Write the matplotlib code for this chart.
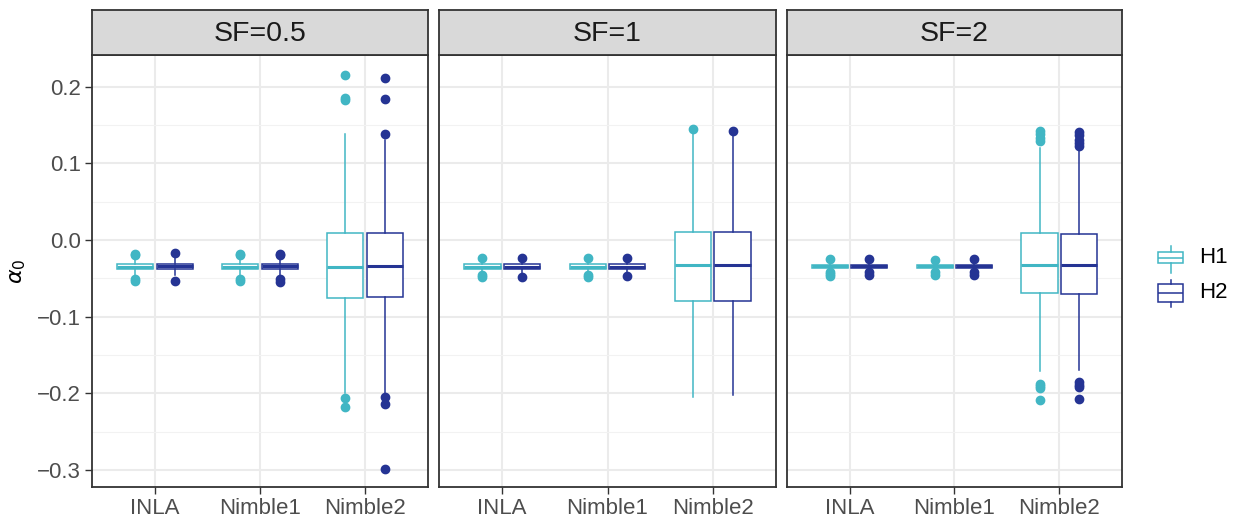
import matplotlib
matplotlib.use("Agg")
import matplotlib.pyplot as plt
from matplotlib.ticker import MultipleLocator

plt.rcParams["font.family"] = ["Liberation Sans", "DejaVu Sans"]
plt.rcParams["mathtext.fontset"] = "dejavusans"

# facets, methods, groups
facets = ["SF=0.5", "SF=1", "SF=2"]
methods = ["INLA", "Nimble1", "Nimble2"]
groups = ["H1", "H2"]
colors = {"H1": "#41B6C4", "H2": "#253494"}

# box stats per facet -> method -> group: (whislo, q1, med, q3, whishi)
stats_h1 = [
    [(-0.046, -0.038, -0.035, -0.031, -0.024), (-0.046, -0.038, -0.035, -0.031, -0.024), (-0.199, -0.076, -0.035, 0.0096, 0.138)],
    [(-0.043, -0.0375, -0.0345, -0.0315, -0.027), (-0.043, -0.0375, -0.0345, -0.0315, -0.027), (-0.204, -0.079, -0.033, 0.010, 0.143)],
    [(-0.039, -0.0365, -0.034, -0.0322, -0.029), (-0.039, -0.0365, -0.034, -0.0322, -0.029), (-0.171, -0.069, -0.033, 0.0087, 0.120)],
]
stats_h2 = [
    [(-0.046, -0.0375, -0.034, -0.0305, -0.023), (-0.046, -0.0375, -0.034, -0.0305, -0.024), (-0.199, -0.074, -0.034, 0.0096, 0.131)],
    [(-0.043, -0.0375, -0.0345, -0.0315, -0.027), (-0.043, -0.0375, -0.0345, -0.0315, -0.027), (-0.202, -0.079, -0.033, 0.010, 0.141)],
    [(-0.039, -0.0365, -0.034, -0.0322, -0.029), (-0.039, -0.0365, -0.034, -0.0322, -0.029), (-0.170, -0.070, -0.033, 0.008, 0.120)],
]
fliers_h1 = [
    [[-0.018, -0.020, -0.051, -0.053], [-0.018, -0.020, -0.051, -0.053], [0.216, 0.186, 0.183, -0.206, -0.217]],
    [[-0.0235, -0.046, -0.048], [-0.0235, -0.045, -0.048], [0.145]],
    [[-0.025, -0.041, -0.044, -0.047], [-0.026, -0.042, -0.045], [0.142, 0.138, 0.133, 0.129, -0.187, -0.190, -0.193, -0.208]],
]
fliers_h2 = [
    [[-0.0166, -0.053], [-0.018, -0.020, -0.051, -0.054], [0.212, 0.184, 0.139, -0.204, -0.214, -0.298]],
    [[-0.0235, -0.048], [-0.0235, -0.047], [0.143]],
    [[-0.025, -0.042, -0.045], [-0.025, -0.042, -0.045], [0.141, 0.137, 0.131, 0.127, 0.123, -0.185, -0.189, -0.192, -0.207]],
]

W, H = 1239, 518
fig = plt.figure(figsize=(W / 100, H / 100), dpi=100)

def px_axes(x0, y0, x1, y1):
    return fig.add_axes([x0 / W, 1 - y1 / H, (x1 - x0) / W, (y1 - y0) / H])

panel_x = [(92, 428), (439, 776), (787, 1122)]
top, strip_top, bottom = 55, 10, 487
ylim = (-0.322, 0.2415)
offs = {"H1": -0.1875, "H2": 0.1875}

for k, facet in enumerate(facets):
    x0, x1 = panel_x[k]
    ax = px_axes(x0, top, x1, bottom)
    for g, st, fl in (("H1", stats_h1, fliers_h1), ("H2", stats_h2, fliers_h2)):
        c = colors[g]
        bstats = []
        for j in range(len(methods)):
            lo, q1, med, q3, hi = st[k][j]
            bstats.append(dict(whislo=lo, q1=q1, med=med, q3=q3, whishi=hi, fliers=fl[k][j]))
        pos = [j + 1 + offs[g] for j in range(len(methods))]
        ax.bxp(bstats, positions=pos, widths=0.345, showcaps=False, patch_artist=True,
               boxprops=dict(facecolor="white", edgecolor=c, linewidth=1.1),
               whiskerprops=dict(color=c, linewidth=1.1),
               medianprops=dict(color=c, linewidth=2.2),
               flierprops=dict(marker="o", markerfacecolor=c, markeredgecolor=c, markersize=6),
               manage_ticks=False, zorder=3)
    ax.set_xlim(0.4, 3.6)
    ax.set_ylim(*ylim)
    ax.set_xticks(range(1, len(methods) + 1))
    ax.set_xticklabels(methods, fontsize=16, color="#4D4D4D")
    ax.yaxis.set_major_locator(MultipleLocator(0.1))
    ax.yaxis.set_minor_locator(MultipleLocator(0.05))
    ax.grid(True, which="major", color="#EBEBEB", linewidth=1.5, zorder=0)
    ax.grid(True, which="minor", axis="y", color="#F2F2F2", linewidth=0.8, zorder=0)
    ax.set_axisbelow(True)
    ax.tick_params(axis="both", which="major", length=5, width=1, color="#333333", pad=3)
    ax.tick_params(axis="y", which="minor", length=0)
    if k == 0:
        labels = []
        for v in ax.get_yticks():
            s = "%.1f" % v
            if s == "-0.0":
                s = "0.0"
            labels.append(s.replace("-", "\u2212"))
        ax.set_yticks(ax.get_yticks())
        ax.set_yticklabels(labels, fontsize=16, color="#4D4D4D")
        ax.set_ylim(*ylim)
    else:
        ax.tick_params(axis="y", labelleft=False, length=0)
    for s in ax.spines.values():
        s.set_color("#333333")
        s.set_linewidth(1.3)

    sax = px_axes(x0, strip_top, x1, top)
    sax.set_facecolor("#D9D9D9")
    sax.set_xticks([])
    sax.set_yticks([])
    for s in sax.spines.values():
        s.set_color("#333333")
        s.set_linewidth(1.3)
    sax.text(0.5, 0.47, facet, ha="center", va="center", fontsize=20.5, color="#1A1A1A",
             transform=sax.transAxes)

fig.text(18 / W, 1 - 271 / H, r"$\alpha_0$", rotation=90, ha="center", va="center",
         fontsize=16, color="black")

# legend
lax = px_axes(1150, 238, 1192, 312)
lax.set_xlim(1150, 1192)
lax.set_ylim(312, 238)
lax.axis("off")
key_stats = [dict(whislo=273, q1=263.3, med=257.5, q3=251.7, whishi=246, fliers=[]),
             dict(whislo=306.7, q1=301.7, med=293, q3=284, whishi=280, fliers=[])]
for g, ks in zip(groups, key_stats):
    c = colors[g]
    lax.bxp([ks], positions=[1170.5], widths=25, showcaps=False, patch_artist=True,
            boxprops=dict(facecolor="white", edgecolor=c, linewidth=1.1),
            whiskerprops=dict(color=c, linewidth=1.1),
            medianprops=dict(color=c, linewidth=1.1), manage_ticks=False)
    fig.text(1199 / W, 1 - ks["med"] / H, g, ha="left", va="center", fontsize=16, color="black")

fig.savefig("out.png", dpi=100, facecolor="white")
